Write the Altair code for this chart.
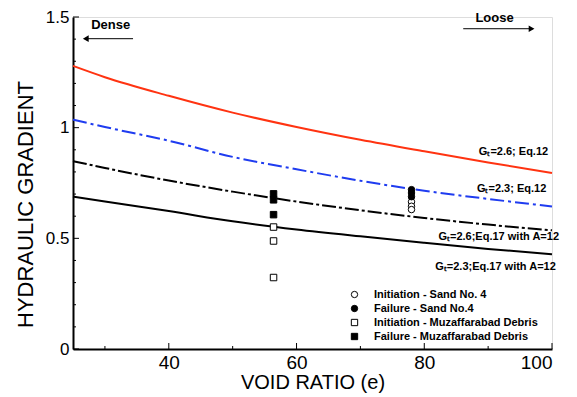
import altair as alt
import pandas as pd

# ---------------- data ----------------
void_ratio = [25, 30, 40, 50, 60, 70, 80, 90, 100]
gt26_eq12 = [1.279, 1.228, 1.144, 1.068, 1.003, 0.945, 0.893, 0.843, 0.795]
gt23_eq12 = [1.036, 1.003, 0.941, 0.868, 0.812, 0.760, 0.715, 0.678, 0.644]
gt26_eq17 = [0.849, 0.818, 0.761, 0.711, 0.666, 0.627, 0.592, 0.562, 0.536]
gt23_eq17 = [0.689, 0.666, 0.623, 0.577, 0.540, 0.509, 0.480, 0.452, 0.428]

series_names = ["Initiation - Sand No. 4", "Failure - Sand No.4",
                "Initiation - Muzaffarabad Debris", "Failure - Muzaffarabad Debris"]
init_sand_x = [78.0, 78.0, 78.0]
init_sand_y = [0.665, 0.645, 0.630]
fail_sand_x = [78.0, 78.0, 78.0]
fail_sand_y = [0.720, 0.705, 0.688]
init_debris_x = [56.4, 56.4, 56.4]
init_debris_y = [0.551, 0.488, 0.323]
fail_debris_x = [56.4, 56.4, 56.4]
fail_debris_y = [0.701, 0.674, 0.607]

curve_labels = ["G\u209c=2.6; Eq.12", "G\u209c=2.3; Eq.12",
                "G\u209c=2.6;Eq.17 with A=12", "G\u209c=2.3;Eq.17 with A=12"]
curve_label_x = [99.4, 99.1, 101.1, 100.6]
curve_label_y = [0.889, 0.721, 0.505, 0.371]

x_major = [40, 60, 80, 100]
x_minor = [30, 50, 70, 90]
y_major = [0, 0.5, 1.0, 1.5]
y_minor = [0.1, 0.2, 0.3, 0.4, 0.6, 0.7, 0.8, 0.9, 1.1, 1.2, 1.3, 1.4]

W, H = 479, 332
FONT = "Liberation Sans"

xs = alt.Scale(domain=[25, 100], nice=False, zero=False)
ys = alt.Scale(domain=[0, 1.5], nice=False, zero=False)

x_axis = alt.Axis(values=x_major, labelExpr="datum.value", title="VOID RATIO (e)",
                  ticks=False, tickSize=0, grid=False, domainColor="black", domainWidth=2,
                  labelFont=FONT, labelFontSize=19, labelColor="black", labelPadding=4,
                  titleFont=FONT, titleFontSize=20, titleFontWeight="normal",
                  titleColor="black", titlePadding=0)
y_axis = alt.Axis(values=y_major, labelExpr="datum.value", title="HYDRAULIC GRADIENT",
                  ticks=False, tickSize=0, grid=False, domainColor="black", domainWidth=2,
                  labelFont=FONT, labelFontSize=17, labelColor="black", labelPadding=4,
                  titleFont=FONT, titleFontSize=22, titleFontWeight="normal",
                  titleColor="black", titleX=-48, titleY=187, titleAngle=270,
                  titleAlign="center", titleBaseline="middle")


def curve(vals, color, dash=None):
    df = pd.DataFrame({"e": void_ratio, "i": vals})
    kw = dict(color=color, strokeWidth=2, interpolate="monotone")
    if dash:
        kw["strokeDash"] = dash
    return alt.Chart(df).mark_line(**kw).encode(
        x=alt.X("e:Q", scale=xs, axis=x_axis),
        y=alt.Y("i:Q", scale=ys, axis=y_axis),
    )


c1 = curve(gt26_eq12, "#ff3311")
c2 = curve(gt23_eq12, "#1f3cf0", [14, 4, 3, 4])
c3 = curve(gt26_eq17, "black", [14, 3, 3, 3])
c4 = curve(gt23_eq17, "black")

# points
pts = pd.DataFrame({
    "series": [series_names[0]] * 3 + [series_names[1]] * 3
              + [series_names[2]] * 3 + [series_names[3]] * 3,
    "e": init_sand_x + fail_sand_x + init_debris_x + fail_debris_x,
    "i": init_sand_y + fail_sand_y + init_debris_y + fail_debris_y,
})
leg = alt.Legend(orient="none", legendX=276, legendY=272, title=None,
                 labelFont=FONT, labelFontSize=11, labelFontWeight="bold",
                 labelColor="black", labelLimit=0, symbolStrokeColor="black",
                 symbolStrokeWidth=1, symbolOpacity=1,
                 symbolSize=40, labelOffset=14, rowPadding=2, padding=0)
points = alt.Chart(pts).mark_point(filled=True, strokeWidth=1, size=42, opacity=1).encode(
    x=alt.X("e:Q", scale=xs),
    y=alt.Y("i:Q", scale=ys),
    shape=alt.Shape("series:N", scale=alt.Scale(domain=series_names,
                    range=["circle", "circle", "square", "square"]), legend=leg),
    fill=alt.Fill("series:N", scale=alt.Scale(domain=series_names,
                  range=["white", "black", "white", "black"]), legend=leg),
    stroke=alt.Stroke("series:N", scale=alt.Scale(domain=series_names,
                      range=["black", "black", "black", "black"]), legend=leg),
)

# curve labels
lab_df = pd.DataFrame({"t": curve_labels, "e": curve_label_x, "i": curve_label_y})
labels = alt.Chart(lab_df).mark_text(align="right", baseline="middle", font=FONT,
                                     fontSize=11, fontWeight="bold", color="black").encode(
    x=alt.X("e:Q", scale=xs), y=alt.Y("i:Q", scale=ys), text="t:N")

# inward ticks
xmaj = alt.Chart(pd.DataFrame({"v": x_major})).mark_rule(color="black", strokeWidth=1).encode(
    x=alt.X("v:Q", scale=xs), y=alt.value(H), y2=alt.value(H - 6))
xmin = alt.Chart(pd.DataFrame({"v": x_minor})).mark_rule(color="black", strokeWidth=1).encode(
    x=alt.X("v:Q", scale=xs), y=alt.value(H), y2=alt.value(H - 3))
ymaj = alt.Chart(pd.DataFrame({"v": y_major})).mark_rule(color="black", strokeWidth=1).encode(
    y=alt.Y("v:Q", scale=ys), x=alt.value(0), x2=alt.value(6))
ymin = alt.Chart(pd.DataFrame({"v": y_minor})).mark_rule(color="black", strokeWidth=1).encode(
    y=alt.Y("v:Q", scale=ys), x=alt.value(0), x2=alt.value(3))

# Dense / Loose arrows
arrow_df = pd.DataFrame({"x1": [34.4, 86.1], "x2": [27.0, 97.0], "y": [1.402, 1.447]})
arrow_lines = alt.Chart(arrow_df).mark_rule(color="black", strokeWidth=1).encode(
    x=alt.X("x1:Q", scale=xs), x2="x2:Q", y=alt.Y("y:Q", scale=ys))
heads_df = pd.DataFrame({"x": [27.0, 96.8], "y": [1.402, 1.447],
                         "s": ["triangle-left", "triangle-right"]})
heads = alt.Chart(heads_df).mark_point(filled=True, color="black", size=45, opacity=1).encode(
    x=alt.X("x:Q", scale=xs), y=alt.Y("y:Q", scale=ys),
    shape=alt.Shape("s:N", scale=None))
words_df = pd.DataFrame({"t": ["Dense", "Loose"], "x": [30.9, 91.0], "y": [1.462, 1.495]})
words = alt.Chart(words_df).mark_text(font=FONT, fontSize=13, fontWeight="bold",
                                      color="black", baseline="middle").encode(
    x=alt.X("x:Q", scale=xs), y=alt.Y("y:Q", scale=ys), text="t:N")

chart = alt.layer(c1, c2, c3, c4, points, labels, xmaj, xmin, ymaj, ymin,
                  arrow_lines, heads, words).properties(
    width=W, height=H, autosize="none",
    padding={"left": 65, "top": 9, "right": 17, "bottom": 44},
).configure_view(stroke=None).configure(background="white")

chart.save("out.html", embed_options={"renderer": "svg", "actions": False})
